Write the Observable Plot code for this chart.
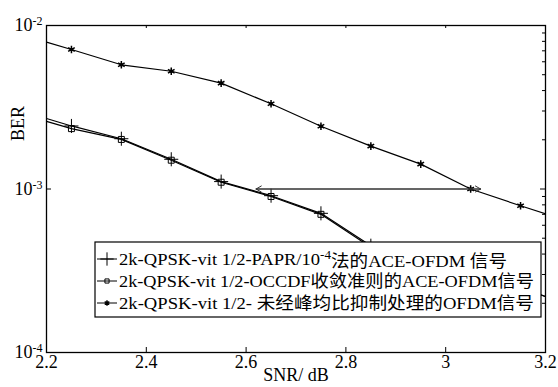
<!DOCTYPE html>
<html><head><meta charset="utf-8">
<script src="https://cdn.jsdelivr.net/npm/d3@7"></script>
<script src="https://cdn.jsdelivr.net/npm/@observablehq/plot@0.6"></script>
<style>
html,body{margin:0;padding:0;background:#fff}
#chart{position:relative;width:558px;height:387px}
</style>
</head><body><div id="chart"></div>
<script>
// ---- data ----
const snr = [2.2, 2.25, 2.35, 2.45, 2.55, 2.65, 2.75, 2.85, 2.95, 3.05, 3.15, 3.2];
const markerSnr = [2.25, 2.35, 2.45, 2.55, 2.65, 2.75, 2.85, 2.95, 3.05, 3.15];
const berPapr  = [0.00270, 0.00243, 0.00203, 0.00152, 0.00111, 0.00091, 0.00071, 0.00045, 0.00033, 0.00028, 0.00025, 0.00022];
const berOccdf = [0.00259, 0.00234, 0.00201, 0.00150, 0.00110, 0.00090, 0.00070, 0.00044, 0.00032, 0.00027, 0.00025, 0.00022];
const berOfdm  = [0.00791, 0.00713, 0.00575, 0.00525, 0.00444, 0.00332, 0.00242, 0.00183, 0.00142, 0.00100, 0.00079, 0.000705];
const arrowSnr = [2.62, 3.07];
const arrowBer = 1e-3;
const xTicks = [2.2, 2.4, 2.6, 2.8, 3, 3.2];
const yTicks = [1e-2, 1e-3, 1e-4];
const yMinor = [2e-4,3e-4,4e-4,5e-4,6e-4,7e-4,8e-4,9e-4,2e-3,3e-3,4e-3,5e-3,6e-3,7e-3,8e-3,9e-3];
const legendPre  = ["2k-QPSK-vit 1/2-PAPR/10", "2k-QPSK-vit 1/2-OCCDF收敛准则的ACE-OFDM信号", "2k-QPSK-vit 1/2- 未经峰均比抑制处理的OFDM信号"];
const legendSup  = ["-4", "", ""];
const legendPost = ["法的ACE-OFDM 信号", "", ""];
const xLabel = "SNR/ dB";
const yLabel = "BER";

// ---- layout ----
const W = 558, H = 387;
const mL = 46, mR = 13, mT = 25, mB = 35;
const pw = W - mL - mR, ph = H - mT - mB;
const FONT = '"Liberation Serif", "Times New Roman", "Noto Sans CJK SC", serif';

const mk = (ys) => snr.map((x, i) => ({x, y: ys[i]}));
const mkM = (ys) => snr.map((x, i) => ({x, y: ys[i]})).filter(d => markerSnr.includes(d.x));

const s1 = mk(berPapr), s2 = mk(berOccdf), s3 = mk(berOfdm);

const plot = Plot.plot({
  width: W, height: H,
  marginLeft: mL, marginRight: mR, marginTop: mT, marginBottom: mB,
  style: `font-family:${FONT};font-size:18px;color:#000;background:#fff;overflow:visible`,
  x: {domain: [2.2, 3.2]},
  y: {type: "log", domain: [1e-4, 1e-2]},
  marks: [
    Plot.line(s3, {x: "x", y: "y", stroke: "#000", strokeWidth: 1.2, clip: true}),
    Plot.line(s1, {x: "x", y: "y", stroke: "#000", strokeWidth: 1.2, clip: true}),
    Plot.line(s2, {x: "x", y: "y", stroke: "#000", strokeWidth: 1.2, clip: true}),
    Plot.dot(mkM(berOfdm), {x: "x", y: "y", symbol: "asterisk", r: 3.6, stroke: "#000", strokeWidth: 1.5}),
    Plot.dot(mkM(berOfdm), {x: "x", y: "y", r: 1.8, fill: "#000"}),
    Plot.dot(mkM(berOccdf), {x: "x", y: "y", symbol: "square2", r: 3.8, stroke: "#000", strokeWidth: 1}),
    Plot.dot(mkM(berPapr), {x: "x", y: "y", symbol: "plus", r: 4.6, stroke: "#000", strokeWidth: 1}),
    Plot.arrow([{x1: arrowSnr[1], x2: arrowSnr[0]}], {x1: "x1", x2: "x2", y1: () => arrowBer, y2: () => arrowBer, stroke: "#333", strokeWidth: 1, headLength: 9}),
    Plot.arrow([{x1: arrowSnr[0], x2: arrowSnr[1]}], {x1: "x1", x2: "x2", y1: () => arrowBer, y2: () => arrowBer, stroke: "#333", strokeWidth: 1, headLength: 9}),
    // inward ticks
    Plot.tickY(yTicks, {y: d => d, insetRight: pw - 5, stroke: "#000"}),
    Plot.tickY(yTicks, {y: d => d, insetLeft: pw - 5, stroke: "#000"}),
    Plot.tickY(yMinor, {y: d => d, insetLeft: pw - 3, stroke: "#000"}),
    Plot.tickX(xTicks, {x: d => d, insetTop: ph - 5, stroke: "#000"}),
    Plot.tickX(xTicks, {x: d => d, insetBottom: ph - 3, stroke: "#000"}),
    Plot.axisX(xTicks, {anchor: "bottom", tickSize: 0, tickPadding: 3, tickFormat: d3.format("~g"), label: null, fontSize: 18}),
    Plot.axisY(yTicks, {anchor: "left", tickSize: 0, tickPadding: 4, tickFormat: d => "10^" + Math.round(Math.log10(d)), label: null, fontSize: 18}),
    Plot.frame({stroke: "#000", strokeWidth: 1.3}),
    Plot.text([yLabel], {frameAnchor: "left", text: d => d, rotate: -90, dx: -28, dy: -48, fontSize: 18}),
    Plot.text([xLabel], {frameAnchor: "bottom", text: d => d, dy: 28, fontSize: 18})
  ]
});

const svg = d3.select(plot);
// superscript exponents on y tick labels
svg.selectAll('g[aria-label="y-axis tick label"] text').each(function() {
  const t = d3.select(this);
  const s = t.text();
  const [base, exp] = s.split("^");
  t.text(null);
  t.append("tspan").text(base);
  t.append("tspan").attr("dy", "-0.5em").attr("font-size", "12px").text(exp);
});

// legend
const lg = svg.append("g").attr("font-family", FONT).attr("font-size", 17).attr("text-anchor", "start");
const lx = 95, ly = 242, lw = 446, lh = 75;
lg.append("rect").attr("x", lx).attr("y", ly).attr("width", lw).attr("height", lh)
  .attr("fill", "#fff").attr("stroke", "#000").attr("stroke-width", 1.2);
const rowsY = [259, 281, 303];
const syms = [d3.symbolPlus, d3.symbolSquare2, d3.symbolAsterisk];
const symSize = [60, 22, 20];
const textLen = [388, 415, 415];
rowsY.forEach((yy, i) => {
  lg.append("line").attr("x1", 97).attr("x2", 117).attr("y1", yy).attr("y2", yy).attr("stroke", "#000").attr("stroke-width", 1);
  lg.append("path").attr("transform", `translate(107,${yy})`).attr("d", d3.symbol(syms[i], symSize[i])())
    .attr("fill", "none").attr("stroke", "#000").attr("stroke-width", i === 2 ? 1.4 : 1);
  if (i === 2) lg.append("circle").attr("cx", 107).attr("cy", yy).attr("r", 1.5).attr("fill", "#000");
  const t = lg.append("text").attr("x", 119).attr("y", yy).attr("dy", "0.35em")
    .attr("text-anchor", "start")
    .attr("textLength", textLen[i]).attr("lengthAdjust", "spacingAndGlyphs");
  t.append("tspan").text(legendPre[i]);
  if (legendSup[i]) {
    t.append("tspan").attr("dy", "-0.5em").attr("font-size", "12px").text(legendSup[i]);
    t.append("tspan").attr("dy", "0.5em").text(legendPost[i]);
  }
});

document.getElementById("chart").appendChild(plot);
</script>
</body></html>
